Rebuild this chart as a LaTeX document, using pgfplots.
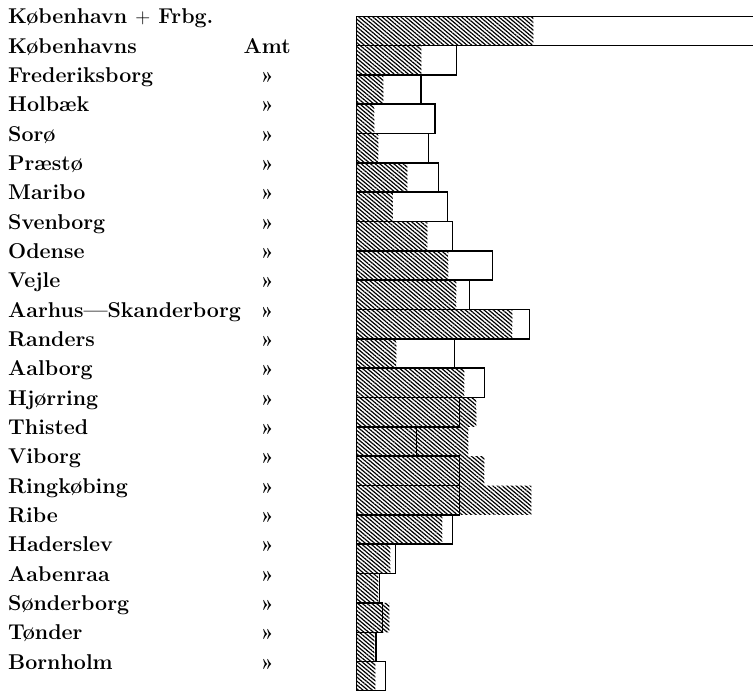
\documentclass[border=0pt]{standalone}
\usepackage{fontspec}
\usepackage{pgfplots}
\pgfplotsset{compat=1.18}
\usetikzlibrary{patterns.meta}
\newcommand{\lab}[2]{\makebox[259pt][l]{#1}\makebox[0pt]{#2}}

% hatched series (H) and outlined series (W), rows 0..22 from top
\pgfplotstableread{
y H W
0 177 450
1 65 100
2 27 64.5
3 18 78.5
4 22 72
5 51 82
6 36.5 91
7 71 96
8 92 136
9 100 113
10 156 173
11 40 98
12 108 128
13 120 103
14 112 60
15 128 103
16 175 103
17 86 96
18 34 39
19 22 23
20 33 26
21 18 19.5
22 19 29
}\datatable

\begin{document}
\begin{tikzpicture}[x=1pt,y=1pt]
\path[use as bounding box] (0,0) rectangle (753,691);
\begin{axis}[
  at={(352.5pt,0pt)}, anchor=south west,
  scale only axis, width=400.5pt, height=675pt,
  xmin=-4, xmax=396.5, ymin=-0.5, ymax=22.5, y dir=reverse,
  xbar, bar width=1,
  axis line style={draw=none},
  xtick=\empty,
  ytick={0,...,22},
  major tick length=0pt,
  yticklabels={
    {\lab{København $+$ Frbg.}{}},
    {\lab{Københavns}{Amt}},
    {\lab{Frederiksborg}{»}},
    {\lab{Holbæk}{»}},
    {\lab{Sorø}{»}},
    {\lab{Præstø}{»}},
    {\lab{Maribo}{»}},
    {\lab{Svenborg}{»}},
    {\lab{Odense}{»}},
    {\lab{Vejle}{»}},
    {\lab{Aarhus---Skanderborg}{»}},
    {\lab{Randers}{»}},
    {\lab{Aalborg}{»}},
    {\lab{Hjørring}{»}},
    {\lab{Thisted}{»}},
    {\lab{Viborg}{»}},
    {\lab{Ringkøbing}{»}},
    {\lab{Ribe}{»}},
    {\lab{Haderslev}{»}},
    {\lab{Aabenraa}{»}},
    {\lab{Sønderborg}{»}},
    {\lab{Tønder}{»}},
    {\lab{Bornholm}{»}}},
  yticklabel style={anchor=base west, inner sep=0pt, xshift=-344.5pt, yshift=7pt,
    font={\fontsize{21.4}{25}\selectfont\bfseries}},
]
\addplot[draw=none, bar shift=0pt,
  pattern={Lines[angle=-40,distance=3pt,line width=1.2pt]}]
  table[x=H, y=y] {\datatable};
\addplot[draw=black, fill=none, line width=1.6pt, bar shift=0pt]
  table[x=W, y=y] {\datatable};
\end{axis}
\end{tikzpicture}
\end{document}
